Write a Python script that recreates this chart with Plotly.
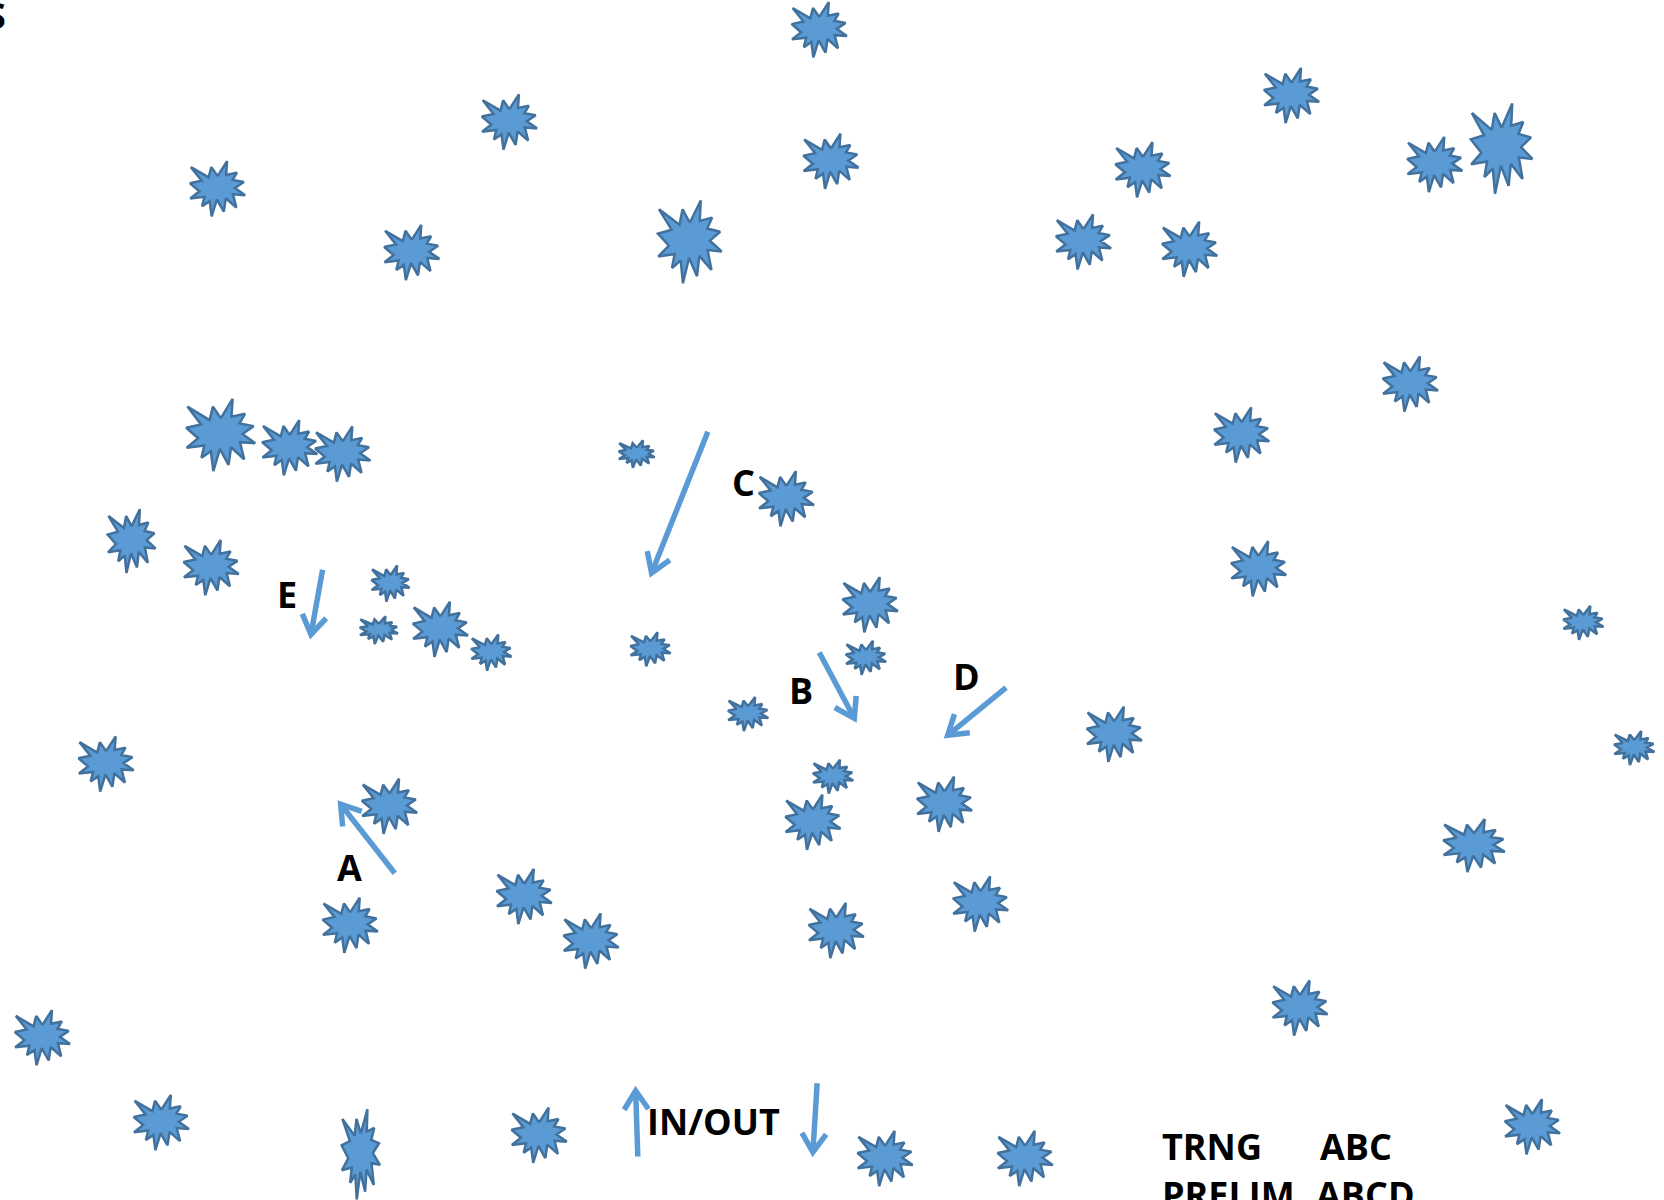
import math
import plotly.graph_objects as go

# ---- data (coordinates in the chart's own canvas units) ----
star_x = [772, 480, 205, 388, 650, 783, 1217, 1077, 1021, 1121, 1352, 1415, 1329, 1170, 1186,
          1492, 1540, 208, 273, 323, 124, 199, 600, 741, 368, 357, 415, 463, 613, 820, 816,
          705, 1050, 100, 367, 785, 766, 890, 1389, 330, 494, 557, 788, 924, 1225, 40, 152,
          340, 508, 834, 966, 1444]
star_y = [28, 115, 178, 238, 228, 152, 90, 160, 228, 235, 155, 140, 362, 410, 536,
          587, 705, 410, 422, 428, 510, 535, 428, 470, 550, 594, 593, 615, 612, 570, 620,
          673, 692, 720, 760, 732, 775, 758, 797, 872, 845, 887, 877, 852, 950, 978, 1058,
          1088, 1070, 1092, 1092, 1062]
star_w = [52, 52, 52, 52, 60, 52, 52, 52, 52, 52, 52, 58, 52, 52, 52,
          38, 38, 65, 52, 52, 45, 52, 34, 52, 36, 36, 52, 38, 38, 52, 38,
          38, 52, 52, 52, 38, 52, 52, 58, 52, 52, 52, 52, 52, 52, 52, 52,
          36, 52, 52, 52, 52]
star_h = [52, 52, 52, 52, 78, 52, 52, 52, 52, 52, 52, 85, 52, 52, 52,
          32, 32, 68, 52, 52, 60, 52, 26, 52, 34, 26, 52, 34, 32, 52, 32,
          32, 52, 52, 52, 32, 52, 52, 50, 52, 52, 52, 52, 52, 52, 52, 52,
          85, 52, 52, 52, 52]

labels = ["C", "E", "B", "D", "A", "IN/OUT"]
label_x = [701, 270, 755, 911, 329, 672]
label_y = [455, 560, 651, 638, 818, 1057]

legend_rows = ["TRNG", "PRELIM"]
legend_vals = ["ABC", "ABCD"]
legend_x1 = [1093, 1093]
legend_x2 = [1242, 1238]
legend_y = [1081, 1126]

arrow_x0 = [667, 304, 772, 948, 372, 601, 770]
arrow_y0 = [407, 537, 615, 648, 823, 1090, 1021]
arrow_x1 = [614, 293, 805, 893, 321, 599, 766]
arrow_y1 = [540, 598, 677, 693, 758, 1028, 1086]

# Explosion ("irregular seal") outline, unit template
seal = [(10800, 5800), (14522, 0), (14155, 5325), (18380, 4457), (16702, 7315), (21097, 8137),
        (17607, 10475), (21600, 13290), (16837, 12942), (18145, 18095), (14020, 14457),
        (13247, 19737), (10532, 14935), (8485, 21600), (7715, 15627), (4762, 17617),
        (5667, 13937), (135, 14587), (3722, 11775), (0, 8615), (4627, 7617), (370, 2295),
        (7312, 6320), (8352, 2295)]

FILL = "#5b9bd5"
EDGE = "#41719c"

fig = go.Figure()

for cx, cy, w, h in zip(star_x, star_y, star_w, star_h):
    xs = [cx + (px / 21600 - 0.5) * w for px, py in seal]
    ys = [cy + (py / 21600 - 0.5) * h for px, py in seal]
    xs.append(xs[0]); ys.append(ys[0])
    fig.add_trace(go.Scatter(x=xs, y=ys, mode="lines", fill="toself", fillcolor=FILL,
                             line=dict(color=EDGE, width=2.5), hoverinfo="skip",
                             showlegend=False))

# arrows: shaft plus open V head
head_len = 21
half_ang = math.radians(33)
for x0, y0, x1, y1 in zip(arrow_x0, arrow_y0, arrow_x1, arrow_y1):
    ang = math.atan2(y0 - y1, x0 - x1)
    hx1 = x1 + head_len * math.cos(ang + half_ang)
    hy1 = y1 + head_len * math.sin(ang + half_ang)
    hx2 = x1 + head_len * math.cos(ang - half_ang)
    hy2 = y1 + head_len * math.sin(ang - half_ang)
    fig.add_trace(go.Scatter(x=[x0, x1, None, hx1, x1, hx2], y=[y0, y1, None, hy1, y1, hy2],
                             mode="lines", line=dict(color=FILL, width=5.5),
                             hoverinfo="skip", showlegend=False))

font = dict(family="Open Sans", size=36, color="black")
ann = []
for t, x, y in zip(labels, label_x, label_y):
    ann.append(dict(x=x, y=y, text="<b>%s</b>" % t, showarrow=False, font=font,
                    xanchor="center", yanchor="middle"))
for a, b, x1, x2, y in zip(legend_rows, legend_vals, legend_x1, legend_x2, legend_y):
    ann.append(dict(x=x1, y=y, text="<b>%s</b>" % a, showarrow=False, font=font,
                    xanchor="left", yanchor="middle"))
    ann.append(dict(x=x2, y=y, text="<b>%s</b>" % b, showarrow=False, font=font,
                    xanchor="left", yanchor="middle"))
ann.append(dict(x=8, y=15, text="<b>S</b>", showarrow=False, font=font,
                xanchor="right", yanchor="middle"))

fig.update_layout(
    width=1664, height=1200,
    margin=dict(l=0, r=0, t=0, b=0),
    paper_bgcolor="white", plot_bgcolor="white",
    xaxis=dict(range=[0, 1568], visible=False, fixedrange=True),
    yaxis=dict(range=[1131, 0], visible=False, fixedrange=True),
    annotations=ann,
    showlegend=False,
)

fig.write_html("out.html", config={"displayModeBar": False},
               post_script="document.body.style.margin='0';")
